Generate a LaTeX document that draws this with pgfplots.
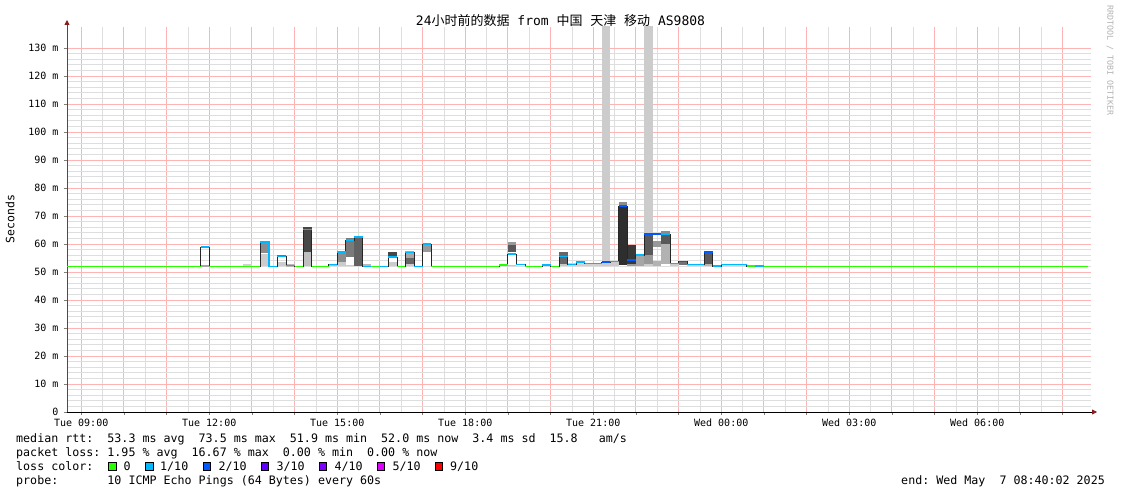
\documentclass[border=0pt]{standalone}
\usepackage{fontspec}
\setmainfont{DejaVu Sans Mono}
\newfontfamily\cjk{Noto Sans CJK SC}
\usepackage{pgfplots}
\pgfplotsset{compat=1.18}
\usetikzlibrary{arrows.meta}
\definecolor{l0}{HTML}{26FF00}
\definecolor{l1}{HTML}{00B8FF}
\definecolor{l2}{HTML}{0059FF}
\definecolor{l3}{HTML}{5E00FF}
\definecolor{l4}{HTML}{7E00FF}
\definecolor{l5}{HTML}{DD00FF}
\definecolor{l9}{HTML}{FF0000}
\definecolor{arrowred}{HTML}{8B1A1A}
\definecolor{mgrid}{HTML}{FFB4B4}
\definecolor{ngrid}{HTML}{DEDEDE}
\newcommand\smk[5]{\addplot[draw=none, fill=#5, forget plot] coordinates {(#1,#3) (#2,#3) (#2,#4) (#1,#4)} --cycle;}
\begin{document}
\frenchspacing
\begin{tikzpicture}[x=1pt,y=1pt]
\path[use as bounding box] (-67,-82) rectangle (1054,412);
\begin{axis}[
  at={(0,0)}, anchor=south west,
  scale only axis, width=1024pt, height=385pt,
  xmin=8.6667, xmax=32.6667, ymin=0, ymax=137.5,
  axis x line=bottom, axis y line=left,
  xtick={9,...,32},
  xticklabels={Tue 09:00,{},{},Tue 12:00,{},{},Tue 15:00,{},{},Tue 18:00,{},{},Tue 21:00,{},{},Wed 00:00,{},{},Wed 03:00,{},{},Wed 06:00,{},{}},
  minor x tick num=1,
  ytick={0,10,...,130},
  yticklabels={0,10 m,20 m,30 m,40 m,50 m,60 m,70 m,80 m,90 m,100 m,110 m,120 m,130 m},
  minor y tick num=4,
  grid=both,
  minor grid style={draw=ngrid, solid, line width=0.6pt},
  major grid style={draw=mgrid, solid, line width=0.8pt},
  tick label style={font=\fontsize{10}{12}\selectfont, text=black},
  /pgf/number format/assume math mode=true,
  major tick length=3pt, minor tick length=0pt,
  tick align=outside,
  xticklabel style={anchor=base, yshift=-12pt},
  yticklabel style={anchor=east, xshift=-2pt},
  axis line style={line width=0.8pt},
  x axis line style={black, -{Triangle[length=5pt,width=5pt,color=arrowred]}, shorten >=-6pt},
  y axis line style={black!70, -{Triangle[length=5pt,width=5pt,color=arrowred]}, shorten >=-7pt},
  clip=true,
]
% ---- smoke ----
\smk{11.8}{12.0}{51.8}{52.6}{black!35}
\smk{12.8}{13.0}{52.0}{53.0}{black!18}
\smk{13.2}{13.4}{52.0}{56.3}{black!20}
\smk{13.2}{13.4}{56.8}{61.0}{black!45}
\smk{13.6}{13.8}{52.0}{53.5}{black!20}
\smk{13.6}{13.8}{55.5}{56.2}{black!55}
\smk{13.8}{14.0}{51.8}{52.8}{black!28}
\smk{14.2}{14.4}{52.0}{57.0}{black!25}
\smk{14.2}{14.4}{57.0}{66.0}{black!72}
\smk{14.8}{15.0}{52.0}{53.0}{black!28}
\smk{15.0}{15.2}{52.0}{53.5}{black!20}
\smk{15.0}{15.2}{53.5}{57.2}{black!45}
\smk{15.2}{15.4}{52.0}{52.5}{black!20}
\smk{15.2}{15.4}{52.5}{55.5}{white}
\smk{15.2}{15.4}{55.5}{62.0}{black!52}
\smk{15.4}{15.6}{52.0}{63.0}{black!62}
\smk{15.6}{15.8}{52.0}{52.7}{black!28}
\smk{16.2}{16.4}{52.0}{53.5}{black!20}
\smk{16.2}{16.4}{53.5}{55.3}{white}
\smk{16.2}{16.4}{55.3}{57.1}{black!72}
\smk{16.6}{16.8}{52.0}{53.0}{black!20}
\smk{16.6}{16.8}{53.0}{55.0}{black!60}
\smk{16.6}{16.8}{55.0}{57.5}{black!35}
\smk{17.0}{17.2}{52.0}{57.0}{white}
\smk{17.0}{17.2}{57.0}{60.5}{black!40}
\smk{18.8}{19.0}{52.0}{53.0}{black!28}
\smk{19.0}{19.2}{52.0}{52.5}{black!22}
\smk{19.0}{19.2}{52.5}{56.4}{white}
\smk{19.0}{19.2}{57.0}{59.5}{black!65}
\smk{19.0}{19.2}{59.5}{60.8}{black!40}
\smk{19.8}{20.0}{52.0}{53.0}{black!28}
\smk{20.2}{20.4}{52.0}{53.0}{black!22}
\smk{20.2}{20.4}{53.0}{57.1}{black!60}
\smk{20.4}{21.2}{52.0}{53.3}{black!18}
\smk{21.2}{21.4}{52.0}{140}{black!20}
\smk{21.4}{21.6}{52.0}{54.0}{black!20}
\smk{21.6}{21.8}{52.5}{73.6}{black!82}
\smk{21.6}{21.8}{73.6}{75.0}{black!45}
\smk{21.8}{22.0}{52.0}{53.0}{black!40}
\smk{21.8}{22.0}{53.0}{59.6}{black!78}
\smk{22.0}{22.2}{52.0}{56.0}{black!35}
\smk{22.2}{22.4}{52.0}{140}{black!20}
\smk{22.2}{22.4}{53.0}{56.0}{black!40}
\smk{22.2}{22.4}{56.0}{63.5}{black!65}
\smk{22.4}{22.6}{52.0}{54.0}{black!30}
\smk{22.4}{22.6}{59.0}{61.0}{black!40}
\smk{22.6}{22.8}{53.0}{60.0}{black!30}
\smk{22.6}{22.8}{60.0}{63.5}{black!65}
\smk{22.6}{22.8}{63.5}{64.8}{black!45}
\smk{22.8}{23.0}{52.0}{53.0}{black!20}
\smk{23.0}{23.2}{52.5}{54.0}{black!55}
\smk{23.2}{23.6}{52.0}{52.7}{black!20}
\smk{23.6}{23.8}{52.0}{53.0}{black!28}
\smk{23.6}{23.8}{53.0}{57.1}{black!65}
\smk{24.0}{24.6}{52.0}{53.0}{black!18}
% ---- median (step line) ----
\addplot[const plot mark left, black!85, line width=0.8pt, forget plot] coordinates {
(8.6667,52) (11.8,58.9) (12.0,52) (13.2,60.7) (13.4,52) (13.6,55.5) (13.8,52.3)
(14.0,52) (14.2,65.2) (14.4,52) (14.8,52.7) (15.0,57.2) (15.2,61.4) (15.4,62.6)
(15.6,52) (16.2,55.3) (16.4,52) (16.6,57.0) (16.8,52) (17.0,60.0) (17.2,52)
(18.8,52.4) (19.0,56.4) (19.2,52.7) (19.4,52) (19.8,52.6) (20.0,52) (20.2,55.5)
(20.4,52.7) (20.6,53.5) (20.8,53.1) (21.2,53.5) (21.4,53.7) (21.6,73.6) (21.8,54.3)
(22.0,56.0) (22.2,63.6) (22.8,53.1) (23.0,53.7) (23.2,52.7) (23.6,57.1) (23.8,52.1)
(24.0,52.7) (24.6,52.1) (25.0,52) (32.6,52)};
% ---- loss 0 ----
\addplot[l0, line width=1.6pt, unbounded coords=jump, forget plot] coordinates {
(8.6667,52) (11.8,52) (11.9,nan)
(12.0,52) (13.2,52) (13.3,nan)
(14.0,52) (14.2,52) (14.3,nan)
(14.4,52) (14.8,52) (14.9,nan)
(15.8,52) (16.0,52) (16.1,nan)
(16.4,52) (16.6,52) (16.7,nan)
(17.2,52) (18.8,52) (18.9,nan)
(18.8,52.4) (19.0,52.4) (19.1,nan)
(19.4,52) (19.8,52) (19.9,nan)
(20.0,52) (20.2,52) (20.3,nan)
(24.6,52.1) (24.8,52.1) (24.9,nan)
(25.0,52) (32.6,52)};
% ---- loss 1/10 ----
\addplot[l1, line width=1.6pt, unbounded coords=jump, forget plot] coordinates {
(11.8,58.9) (12.0,58.9) (12.1,nan)
(13.2,60.7) (13.4,60.7) (13.4,52) (13.6,52) (13.7,nan)
(13.6,55.5) (13.8,55.5) (13.9,nan)
(13.8,52.3) (14.0,52.3) (14.1,nan)
(14.2,65.2) (14.4,65.2) (14.5,nan)
(14.8,52.7) (15.0,52.7) (15.1,nan)
(15.0,57.2) (15.2,57.2) (15.3,nan)
(15.2,61.4) (15.4,61.4) (15.5,nan)
(15.4,62.6) (15.6,62.6) (15.7,nan)
(15.6,52) (15.8,52) (15.9,nan)
(16.0,52) (16.2,52) (16.3,nan)
(16.2,55.3) (16.4,55.3) (16.5,nan)
(16.6,57.0) (16.8,57.0) (16.9,nan)
(16.8,52) (17.0,52) (17.1,nan)
(17.0,60.0) (17.2,60.0) (17.3,nan)
(19.0,56.4) (19.2,56.4) (19.3,nan)
(19.2,52.7) (19.4,52.7) (19.5,nan)
(19.8,52.6) (20.0,52.6) (20.1,nan)
(20.2,55.5) (20.4,55.5) (20.5,nan)
(20.4,52.7) (20.6,52.7) (20.7,nan)
(20.6,53.5) (20.8,53.5) (20.9,nan)
(20.8,53.1) (21.2,53.1) (21.3,nan)
(21.4,53.7) (21.6,53.7) (21.7,nan)
(22.0,56.0) (22.2,56.0) (22.3,nan)
(22.6,63.6) (22.8,63.6) (22.9,nan)
(22.8,53.1) (23.0,53.1) (23.1,nan)
(23.2,52.7) (23.6,52.7) (23.7,nan)
(23.8,52.1) (24.0,52.1) (24.1,nan)
(24.0,52.7) (24.6,52.7) (24.7,nan)
(24.8,52.1) (25.0,52.1)};
% ---- loss 2/10 ----
\addplot[l2, line width=1.6pt, unbounded coords=jump, forget plot] coordinates {
(21.2,53.5) (21.4,53.5) (21.5,nan)
(21.6,73.6) (21.8,73.6) (21.9,nan)
(21.8,54.3) (22.0,54.3) (22.1,nan)
(22.2,63.6) (22.6,63.6) (22.7,nan)
(23.0,53.7) (23.2,53.7) (23.3,nan)
(23.6,57.1) (23.8,57.1)};
\end{axis}
% title
\node[anchor=base, font=\fontsize{13}{15}\selectfont] at (493.5,386) {24{\cjk 小时前的数据} from {\cjk 中国} {\cjk 天津} {\cjk 移动} AS9808};
% y label
\node[rotate=90, font=\fontsize{11.5}{13}\selectfont] at (-57,193) {Seconds};
% watermark
\node[rotate=-90, anchor=west, inner sep=0pt, text=black!30, font=\fontsize{8.3}{9}\selectfont] at (1043,407) {RRDTOOL / TOBI OETIKER};
% legend text
\begin{scope}[every node/.style={anchor=base west, inner sep=0pt, font=\fontsize{11.66}{14}\selectfont}]
\node at (-51,-30.3) {median rtt:~~53.3 ms avg~~73.5 ms max~~51.9 ms min~~52.0 ms now~~3.4 ms sd~~15.8 ~~am/s};
\node at (-51,-44.3) {packet loss: 1.95 \% avg~~16.67 \% max~~0.00 \% min~~0.00 \% now};
\node at (-51,-58.3) {loss color:};
\node at (56.3,-58.3) {0};
\node at (93,-58.3) {1/10};
\node at (151.3,-58.3) {2/10};
\node at (209.3,-58.3) {3/10};
\node at (267.3,-58.3) {4/10};
\node at (325.3,-58.3) {5/10};
\node at (383,-58.3) {9/10};
\node at (-51,-72.3) {probe:~~~~~~~10 ICMP Echo Pings (64 Bytes) every 60s};
\node[anchor=base east] at (1038,-72.3) {end: Wed May~~7 08:40:02 2025};
\end{scope}
\foreach \bx/\c in {41.7/l0, 78.7/l1, 136.3/l2, 194/l3, 252/l4, 310/l5, 368/l9}{
  \draw[fill=\c, draw=black, line width=0.8pt] (\bx,-58) rectangle ++(7.5,7.5);
}
\end{tikzpicture}
\end{document}
